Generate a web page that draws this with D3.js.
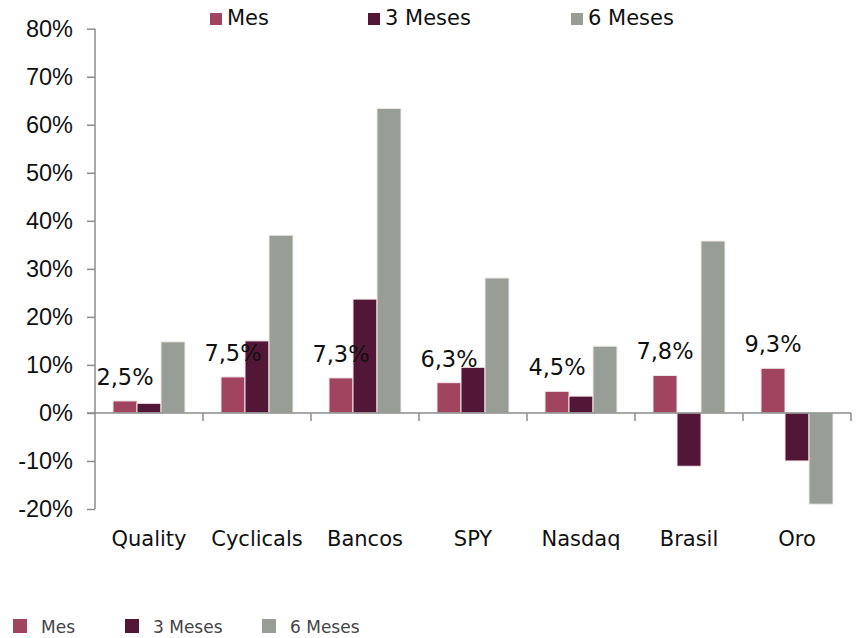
<!DOCTYPE html>
<meta charset="utf-8">
<style>
body{margin:0;background:#fff;}
svg{display:block;font-family:"DejaVu Sans",sans-serif;}
.axis path,.axis line{stroke:#8c8c8c;stroke-width:1.5;}
.axis text{fill:#111;}
</style>
<body>
<script src="https://cdn.jsdelivr.net/npm/d3@7"></script>
<script>
var categories = ["Quality","Cyclicals","Bancos","SPY","Nasdaq","Brasil","Oro"];
var series = ["Mes","3 Meses","6 Meses"];
var mes = [2.5, 7.5, 7.3, 6.3, 4.5, 7.8, 9.3];
var tresMeses = [2.0, 15.0, 23.7, 9.5, 3.5, -11.1, -10.0];
var seisMeses = [14.8, 37.0, 63.4, 28.1, 13.9, 35.8, -19.0];
var yTicks = [-20,-10,0,10,20,30,40,50,60,70,80];
var colors = ["#a14460","#521636","#989e96"];

var W = 857, H = 638;
var svg = d3.select("body").append("svg").attr("width", W).attr("height", H);

var x0 = d3.scaleBand().domain(categories).range([95, 851]).padding(0);
var x1 = d3.scaleBand().domain(series).range([18, 90]).padding(0);
var y = d3.scaleLinear().domain([-20, 80]).range([509, 28.7]);

var rows = categories.map(function(c, i){
  return {cat: c, vals: [mes[i], tresMeses[i], seisMeses[i]]};
});

// y axis
var yAxis = svg.append("g").attr("class","axis").attr("transform","translate(95,0)")
  .call(d3.axisLeft(y).tickValues(yTicks).tickSize(8).tickPadding(14)
    .tickFormat(function(d){ return d + "%"; }));
yAxis.selectAll("text").style("font-size","23.5px");
yAxis.select(".domain").attr("d","M0," + y(-20) + "V" + y(80));

// bars
var g = svg.append("g").selectAll("g").data(rows).enter().append("g")
  .attr("transform", function(d){ return "translate(" + x0(d.cat) + ",0)"; });
g.selectAll("rect").data(function(d){ return d.vals.map(function(v,k){ return {s: series[k], v: v, k: k}; }); })
  .enter().append("rect")
  .attr("x", function(d){ return x1(d.s); })
  .attr("width", x1.bandwidth())
  .attr("y", function(d){ return y(Math.max(0, d.v)); })
  .attr("height", function(d){ return Math.abs(y(d.v) - y(0)); })
  .attr("fill", function(d){ return colors[d.k]; })
  .attr("stroke", "#f2eaea").attr("stroke-width", 1);

// x axis at zero
var xg = svg.append("g").attr("class","axis");
xg.append("line").attr("x1", 87).attr("x2", 851).attr("y1", y(0)).attr("y2", y(0));
xg.selectAll("line.tk").data(categories.slice(1).concat(["end"])).enter().append("line")
  .attr("class","tk")
  .attr("x1", function(d, i){ return 95 + x0.bandwidth() * (i + 1); })
  .attr("x2", function(d, i){ return 95 + x0.bandwidth() * (i + 1); })
  .attr("y1", y(0)).attr("y2", y(0) + 8);

// category labels
svg.append("g").selectAll("text").data(categories).enter().append("text")
  .attr("x", function(d){ return x0(d) + x0.bandwidth() / 2; })
  .attr("y", 546)
  .attr("text-anchor","middle")
  .style("font-size","21px").attr("fill","#111")
  .text(function(d){ return d; });

// data labels (Mes)
svg.append("g").selectAll("text").data(rows).enter().append("text")
  .attr("x", function(d){ return x0(d.cat) + x1("Mes") + x1.bandwidth() / 2; })
  .attr("y", function(d){ return y(d.vals[0]) - 16; })
  .attr("text-anchor","middle")
  .style("font-size","22.5px").attr("fill","#111")
  .text(function(d){ return d.vals[0].toFixed(1).replace(".", ",") + "%"; });

// top legend
var topX = [210, 368, 571];
var lt = svg.append("g").selectAll("g").data(series).enter().append("g")
  .attr("transform", function(d, i){ return "translate(" + topX[i] + ",0)"; });
lt.append("rect").attr("x",0).attr("y",13).attr("width",12).attr("height",12)
  .attr("fill", function(d, i){ return colors[i]; });
lt.append("text").attr("x",17).attr("y",25).style("font-size","21px").attr("fill","#111")
  .text(function(d){ return d; });

// bottom legend
var botX = [13, 125, 262];
var lb = svg.append("g").selectAll("g").data(series).enter().append("g")
  .attr("transform", function(d, i){ return "translate(" + botX[i] + ",0)"; });
lb.append("rect").attr("x",0).attr("y",619).attr("width",14).attr("height",14)
  .attr("fill", function(d, i){ return colors[i]; });
lb.append("text").attr("x",28).attr("y",633).style("font-size","17px").attr("fill","#444")
  .text(function(d){ return d; });
</script>
</body>
